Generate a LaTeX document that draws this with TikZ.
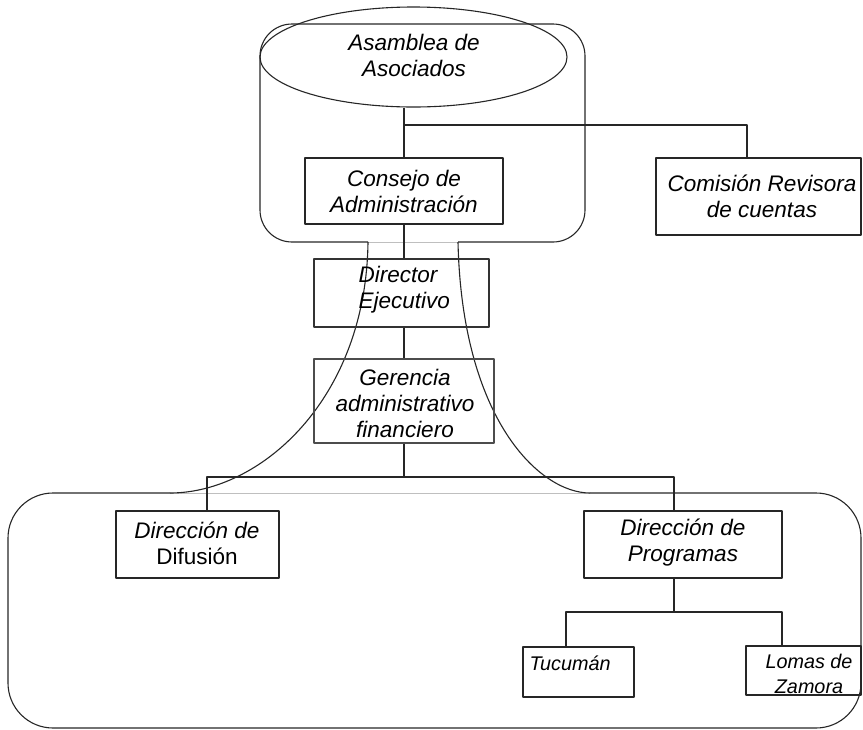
\documentclass[tikz,border=0pt]{standalone}
\usepackage{fontspec}
\setmainfont{Liberation Sans}
\usetikzlibrary{shapes.geometric}
\begin{document}
\begin{tikzpicture}[x=1pt,y=-1pt,
  line width=1.1pt, line join=round,
  lbl/.style={font=\fontsize{22.5}{26}\selectfont\itshape, align=center, inner sep=0pt},
  smalllbl/.style={font=\fontsize{19.8}{25}\selectfont\itshape, align=center, inner sep=0pt},
  conn/.style={draw=black!85, line width=1.1pt},
  joint/.style={draw=black!25, line width=0.9pt}]
\useasboundingbox (0,0) rectangle (863,729);

% containers
\draw[joint] (368,242) -- (458,242);
\draw[joint] (170,493) -- (590,493);
\draw[black!85, rounded corners=32] (368,242) -- (260,242) -- (260,24) -- (585,24) -- (585,242) -- (458,242);
\draw[black!85, rounded corners=45] (170,493) -- (8,493) -- (8,728) -- (861,728) -- (861,493) -- (590,493);
\draw[black!85] (368,242) .. controls (366,400) and (260,493) .. (170,493);
\draw[black!85] (458,242) .. controls (462,420) and (540,493) .. (590,493);

% nodes
\node[draw=black!85, ellipse, minimum width=307, minimum height=100, inner sep=0] (asam) at (413.5,57) {};
\node[lbl] (asamt) at (414,55) {Asamblea de\\Asociados};

\node[draw=black!85, minimum width=198, minimum height=66, inner sep=0] (cons) at (404,191) {};
\node[lbl] at (cons) {Consejo de\\Administración};

\node[draw=black!85, minimum width=205, minimum height=77, inner sep=0] (com) at (758.5,196.5) {};
\node[lbl] at (762,196) {Comisión Revisora\\de cuentas};

\node[draw=black!80, line width=2.2pt, minimum width=175, minimum height=68, inner sep=0] (dir) at (401.5,293) {};
\node[lbl, align=left, anchor=west] at (358,290) {Director\\Ejecutivo};

\node[draw=black!70, line width=1.2pt, minimum width=180, minimum height=84, inner sep=0] (ger) at (404,401) {};
\node[lbl] at (405,403) {Gerencia\\administrativo\\financiero};

\node[draw=black!85, minimum width=163, minimum height=67, inner sep=0] (dif) at (197.5,544.5) {};
\node[lbl] at (197,543) {Dirección de\\\upshape Difusión};

\node[draw=black!85, minimum width=198, minimum height=67, inner sep=0] (prog) at (683,544.5) {};
\node[lbl] at (683,543) {Dirección de\\Programas};

\node[draw=black!85, minimum width=111, minimum height=50, inner sep=0] (tuc) at (578.5,672) {};
\node[smalllbl, anchor=west] at (529,663) {Tucumán};

\node[draw=black!85, minimum width=115, minimum height=49, inner sep=0] (lom) at (803.5,670.5) {};
\node[smalllbl] at (809,674) {Lomas de\\Zamora};

% connectors
\draw[conn] (asam.south -| cons.north) -- (cons.north);
\coordinate (b1) at (404,125);
\draw[conn] (b1) -| (com.north -| 747,0);
\draw[conn] (cons.south) -- (dir.north -| cons.south);
\draw[conn] (dir.south -| cons.south) -- (ger.north -| cons.south);
\coordinate (b2) at (404,477);
\draw[conn] (ger.south -| b2) -- (b2);
\draw[conn] (dif.north -| 207,0) |- (b2) -| (prog.north -| 674,0);
\coordinate (b3) at (674,612);
\draw[conn] (prog.south -| b3) -- (b3);
\draw[conn] (tuc.north -| 566,0) |- (b3) -| (lom.north -| 782,0);
\end{tikzpicture}
\end{document}
